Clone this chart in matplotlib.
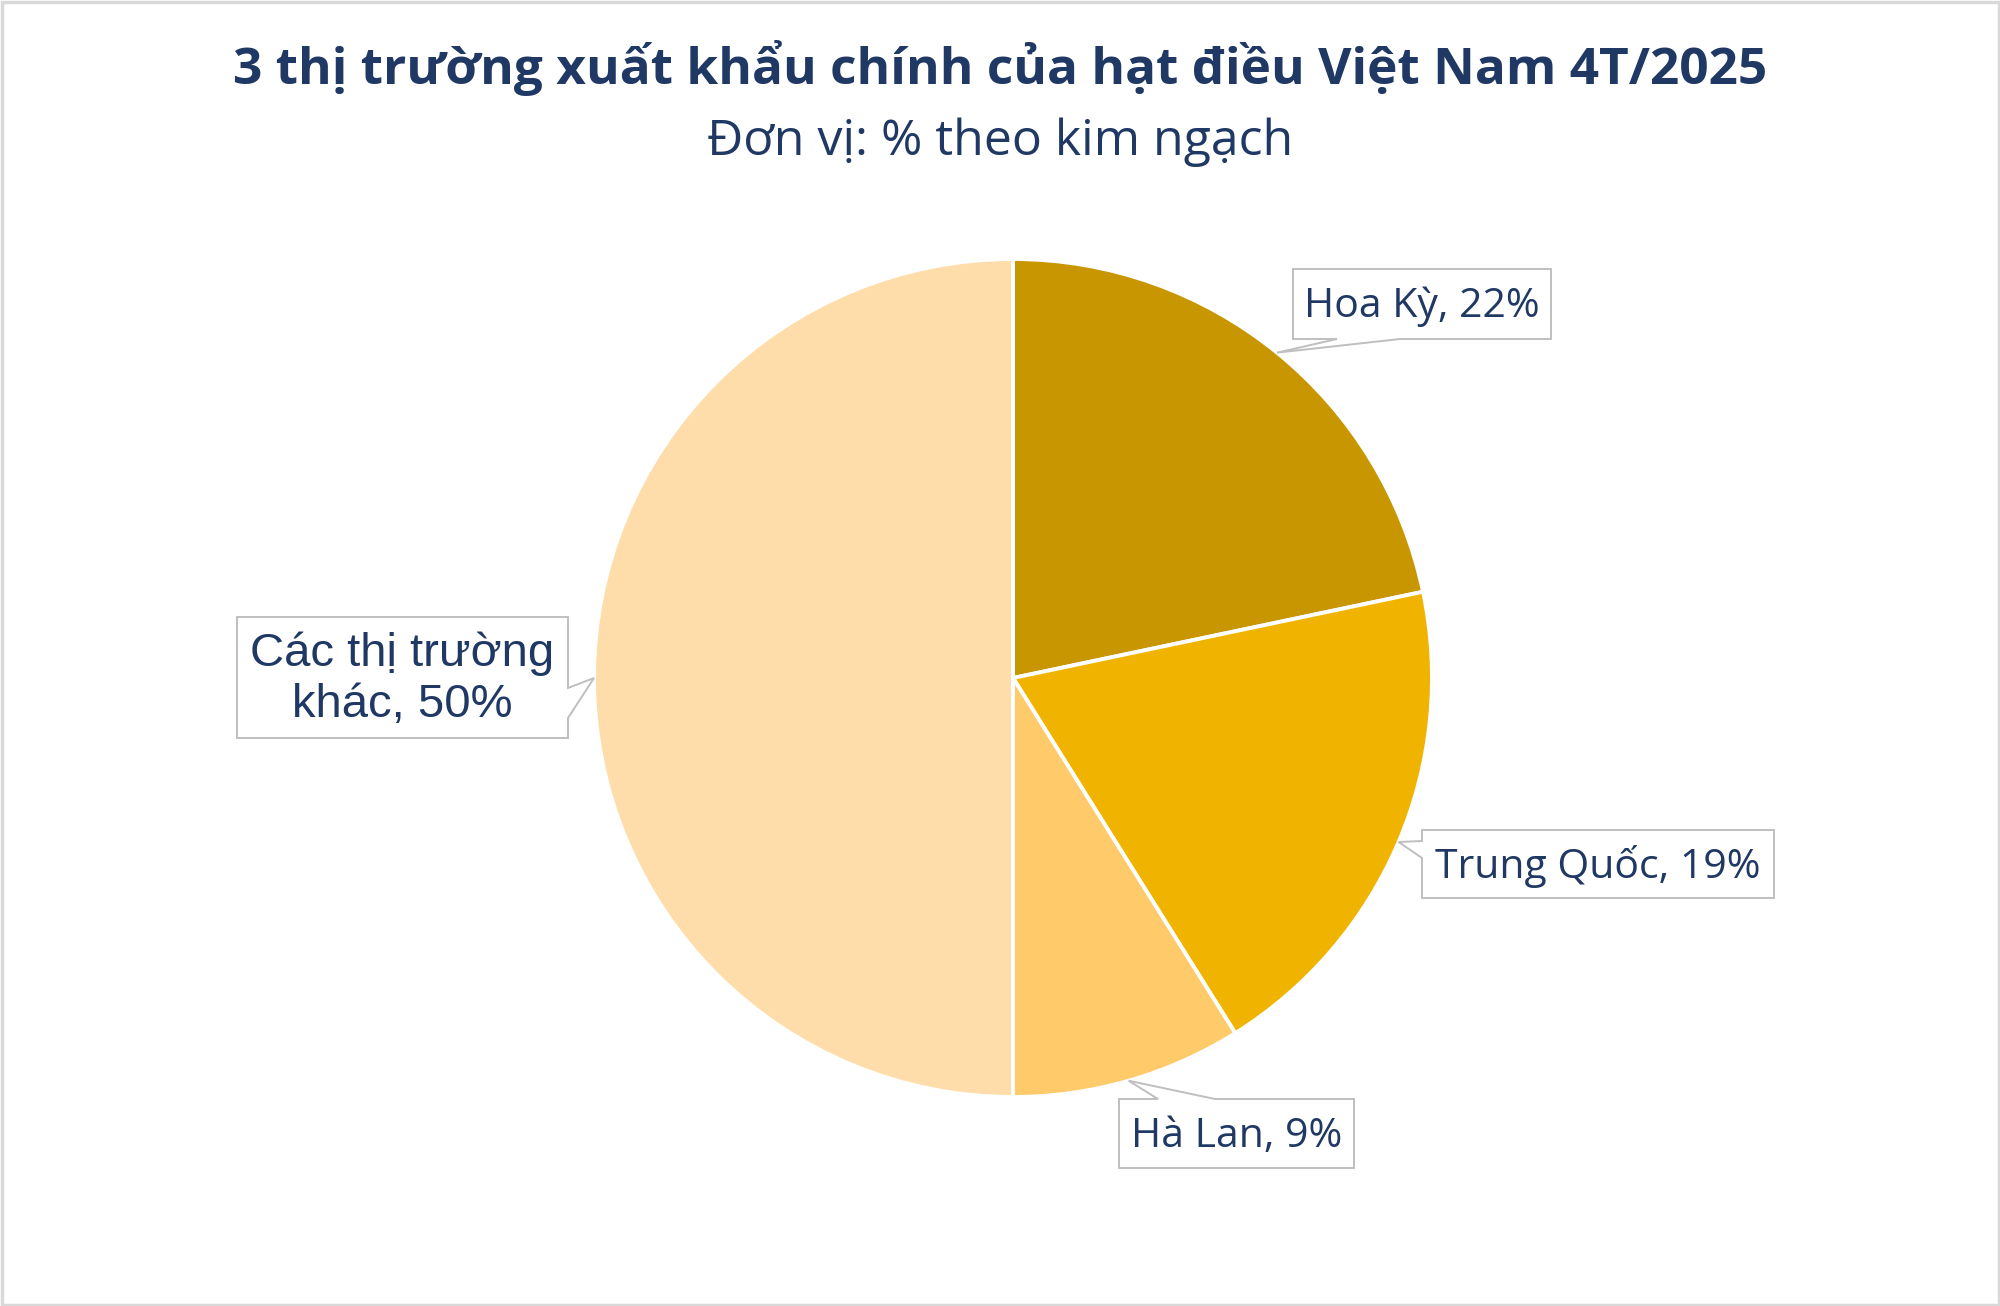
import matplotlib
matplotlib.use('Agg')
import matplotlib.pyplot as plt
from matplotlib.patches import Polygon, Rectangle
import numpy as np

# data
markets = ['Hoa Kỳ', 'Trung Quốc', 'Hà Lan', 'Các thị trường khác']
shares = [21.7, 19.4, 8.9, 50.0]
colors = ['#C89600', '#F0B400', '#FFCA6A', '#FEDDAA']

title = '3 thị trường xuất khẩu chính của hạt điều Việt Nam 4T/2025'
subtitle = 'Đơn vị: % theo kim ngạch'

W, H = 2000, 1306
NAVY = '#1F3864'
BOX_EDGE = '#BFBFBF'

# callout boxes in pixel coords (x0, y0, x1, y1), side of pointer, pointer base
boxes = [
    ((1293, 269, 1551, 339), 'bottom', (1400, 1337)),
    ((1422, 830, 1774, 898), 'left', (841, 858)),
    ((1119, 1099, 1354, 1168), 'top', (1158, 1215)),
    ((237, 617, 568, 738), 'right', (688, 718)),
]


def callout_poly(box, side, base, tip):
    x0, y0, x1, y1 = box
    b1, b2 = base
    if side == 'bottom':
        pts = [(x0, y0), (x1, y0), (x1, y1), (max(b1, b2), y1), tip, (min(b1, b2), y1), (x0, y1)]
    elif side == 'top':
        pts = [(x0, y0), (min(b1, b2), y0), tip, (max(b1, b2), y0), (x1, y0), (x1, y1), (x0, y1)]
    elif side == 'left':
        pts = [(x0, y0), (x1, y0), (x1, y1), (x0, y1), (x0, max(b1, b2)), tip, (x0, min(b1, b2))]
    else:
        pts = [(x0, y0), (x1, y0), (x1, min(b1, b2)), tip, (x1, max(b1, b2)), (x1, y1), (x0, y1)]
    return pts


fig = plt.figure(figsize=(W / 100, H / 100), dpi=100)
fig.patch.set_facecolor('white')

# pie axes: centre (1013, 678), radius 419 px
cx, cy, r = 1013, 678, 419
ax = fig.add_axes([(cx - r) / W, (H - cy - r) / H, 2 * r / W, 2 * r / H])
wedges, _ = ax.pie(shares, colors=colors, startangle=90, counterclock=False,
                   wedgeprops=dict(edgecolor='white', linewidth=2.8))
ax.set_xlim(-1, 1)
ax.set_ylim(-1, 1)
ax.set_aspect('equal')
ax.axis('off')

# overlay axes in pixel units (y downward)
ov = fig.add_axes([0, 0, 1, 1], zorder=5)
ov.set_xlim(0, W)
ov.set_ylim(H, 0)
ov.axis('off')
ov.patch.set_alpha(0)

to_px = ax.transData + ov.transData.inverted()

for i, (w, (box, side, base)) in enumerate(zip(wedges, boxes)):
    mid = np.deg2rad((w.theta1 + w.theta2) / 2)
    tip = to_px.transform((np.cos(mid), np.sin(mid)))
    pts = callout_poly(box, side, base, tuple(tip))
    ov.add_patch(Polygon(pts, closed=True, facecolor='white', edgecolor=BOX_EDGE, linewidth=1.4))
    x0, y0, x1, y1 = box
    txt = '{}, {:.0f}%'.format(markets[i], shares[i])
    if i == 3:
        txt = 'Các thị trường\nkhác, {:.0f}%'.format(shares[i])
        ov.text((x0 + x1) / 2, (y0 + y1) / 2 + 2, txt, ha='center', va='center',
                fontsize=34, color=NAVY, family='Liberation Sans', linespacing=1.22)
    else:
        ov.text((x0 + x1) / 2, (y0 + y1) / 2 + 3, txt, ha='center', va='center',
                fontsize=29.5, color=NAVY, family='Open Sans')

ov.text(W / 2, 68, title, ha='center', va='center', fontsize=37, fontweight='bold',
        color=NAVY, family='Open Sans')
ov.text(W / 2, 142, subtitle, ha='center', va='center', fontsize=36,
        color=NAVY, family='Open Sans')

# light grey frame around the picture
ov.add_patch(Rectangle((1.5, 1.5), W - 3, H - 3, fill=False, edgecolor='#D9D9D9', linewidth=2.5))

fig.savefig('out.png', dpi=100, facecolor='white')
